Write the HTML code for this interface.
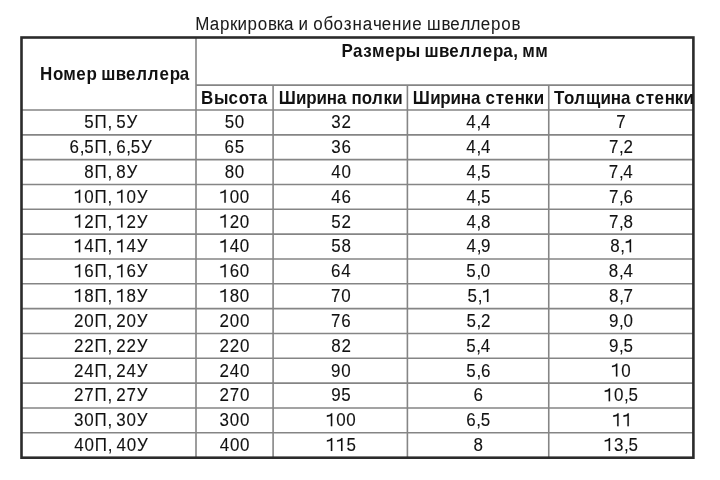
<!DOCTYPE html>
<html><head><meta charset="utf-8"><style>
html,body{margin:0;padding:0;background:#fff;width:720px;height:480px;overflow:hidden}
svg{position:absolute;left:0;top:0;filter:blur(0.3px)}
text{font-family:"Liberation Sans",sans-serif;font-kerning:none;font-size:17.490px}
.ti{fill:#1a1a1a;stroke:#1a1a1a;stroke-width:0.05px}
.hb{font-weight:bold;fill:#111;stroke:#111;stroke-width:0.0px}
.d{fill:#111;stroke:#111;stroke-width:0.1px}
.o path{fill:#111;stroke:#111;stroke-width:0.1px;vector-effect:non-scaling-stroke}
</style></head><body>
<svg width="720" height="480" viewBox="0 0 720 480">
<g stroke="#858585" stroke-width="1.6" fill="none">
<line x1="196.0" y1="37.5" x2="196.0" y2="457.7"/>
<line x1="273.1" y1="85.1" x2="273.1" y2="457.7"/>
<line x1="407.4" y1="85.1" x2="407.4" y2="457.7"/>
<line x1="548.75" y1="85.1" x2="548.75" y2="457.7"/>
<line x1="196.0" y1="85.10" x2="693.4" y2="85.10"/>
<line x1="21.5" y1="110.00" x2="693.4" y2="110.00"/>
<line x1="21.5" y1="134.83" x2="693.4" y2="134.83"/>
<line x1="21.5" y1="159.66" x2="693.4" y2="159.66"/>
<line x1="21.5" y1="184.49" x2="693.4" y2="184.49"/>
<line x1="21.5" y1="209.32" x2="693.4" y2="209.32"/>
<line x1="21.5" y1="234.15" x2="693.4" y2="234.15"/>
<line x1="21.5" y1="258.98" x2="693.4" y2="258.98"/>
<line x1="21.5" y1="283.81" x2="693.4" y2="283.81"/>
<line x1="21.5" y1="308.64" x2="693.4" y2="308.64"/>
<line x1="21.5" y1="333.47" x2="693.4" y2="333.47"/>
<line x1="21.5" y1="358.30" x2="693.4" y2="358.30"/>
<line x1="21.5" y1="383.13" x2="693.4" y2="383.13"/>
<line x1="21.5" y1="407.96" x2="693.4" y2="407.96"/>
<line x1="21.5" y1="432.79" x2="693.4" y2="432.79"/>
</g>
<rect x="21.5" y="37.5" width="671.90" height="420.20" fill="none" stroke="#2b2b2b" stroke-width="2.6"/>
<text transform="translate(0,30.30) scale(0.97,1.03)" x="201.23 216.18 226.70 237.19 244.73 255.25 265.77 276.28 285.27 292.82 303.26 307.84 318.28 322.87 333.39 343.90 354.40 363.44 373.96 384.46 393.49 404.01 414.53 425.04 435.49 440.14 455.09 464.11 474.64 485.15 495.66 506.18 516.70 527.21" y="0" class="ti">Маркировка и обозначение швеллеров</text>
<text transform="translate(0,79.90) scale(0.97,1.05)" x="41.21 54.70 65.26 78.73 89.26 99.69 104.35 119.32 129.82 140.36 152.38 164.38 174.91 185.41" y="0" class="hb">Номер швеллера</text>
<text transform="translate(0,56.90) scale(0.97,1.05)" x="352.02 364.01 374.51 383.59 397.07 407.60 418.18 433.05 437.71 452.68 463.18 473.72 485.74 497.74 508.27 518.77 529.22 533.72 538.36 551.88" y="0" class="hb">Размеры швеллера, мм</text>
<text transform="translate(0,103.60) scale(0.97,1.05)" x="207.18 220.74 235.68 246.22 256.70 265.74" y="0" class="hb">Высота</text>
<text transform="translate(0,103.60) scale(0.97,1.05)" x="287.34 305.26 315.78 326.30 336.81 347.32 357.76 362.36 372.88 383.40 395.39 404.43" y="0" class="hb">Ширина полки</text>
<text transform="translate(0,103.60) scale(0.97,1.05)" x="425.54 443.46 453.98 464.50 475.02 485.52 495.96 500.55 511.05 520.08 530.61 541.10 550.15" y="0" class="hb">Ширина стенки</text>
<text transform="translate(0,103.60) scale(0.97,1.05)" x="571.01 581.53 592.06 604.13 619.10 629.61 640.12 650.56 655.14 665.64 674.68 685.21 695.70 704.74" y="0" class="hb">Толщина стенки</text>
<text transform="translate(0,128.20) scale(0.97,1.04)" x="86.87 97.43 110.84 115.34 119.93 130.47" y="0" class="d">5П, 5У</text>
<text transform="translate(0,128.20) scale(0.97,1.04)" x="231.62 242.14" y="0" class="d">50</text>
<text transform="translate(0,128.20) scale(0.97,1.04)" x="341.53 352.05" y="0" class="d">32</text>
<text transform="translate(0,128.20) scale(0.97,1.04)" x="480.77 491.22 495.80" y="0" class="d">4,4</text>
<text transform="translate(0,128.20) scale(0.97,1.04)" x="635.33" y="0" class="d">7</text>
<text transform="translate(0,153.03) scale(0.97,1.04)" x="71.75 82.19 86.77 97.34 110.74 115.25 119.83 130.27 134.86 145.40" y="0" class="d">6,5П, 6,5У</text>
<text transform="translate(0,153.03) scale(0.97,1.04)" x="231.55 242.07" y="0" class="d">65</text>
<text transform="translate(0,153.03) scale(0.97,1.04)" x="341.48 351.99" y="0" class="d">36</text>
<text transform="translate(0,153.03) scale(0.97,1.04)" x="480.77 491.22 495.80" y="0" class="d">4,4</text>
<text transform="translate(0,153.03) scale(0.97,1.04)" x="627.82 638.26 642.85" y="0" class="d">7,2</text>
<text transform="translate(0,177.86) scale(0.97,1.04)" x="86.84 97.40 110.81 115.31 119.90 130.44" y="0" class="d">8П, 8У</text>
<text transform="translate(0,177.86) scale(0.97,1.04)" x="231.59 242.11" y="0" class="d">80</text>
<text transform="translate(0,177.86) scale(0.97,1.04)" x="341.57 352.09" y="0" class="d">40</text>
<text transform="translate(0,177.86) scale(0.97,1.04)" x="480.89 491.33 495.91" y="0" class="d">4,5</text>
<text transform="translate(0,177.86) scale(0.97,1.04)" x="627.63 638.07 642.66" y="0" class="d">7,4</text>
<text transform="translate(0,202.69) scale(0.97,1.04)" x="76.23 86.75 97.31 110.72 115.22 119.81 130.33 140.87" y="0" class="d"> 0П,  0У</text>
<text transform="translate(0,202.69) scale(0.97,1.04)" x="226.24 236.76 247.28" y="0" class="d"> 00</text>
<text transform="translate(0,202.69) scale(0.97,1.04)" x="341.61 352.13" y="0" class="d">46</text>
<text transform="translate(0,202.69) scale(0.97,1.04)" x="480.89 491.33 495.91" y="0" class="d">4,5</text>
<text transform="translate(0,202.69) scale(0.97,1.04)" x="627.76 638.21 642.79" y="0" class="d">7,6</text>
<text transform="translate(0,227.52) scale(0.97,1.04)" x="76.23 86.75 97.31 110.72 115.22 119.81 130.33 140.87" y="0" class="d"> 2П,  2У</text>
<text transform="translate(0,227.52) scale(0.97,1.04)" x="226.24 236.76 247.28" y="0" class="d"> 20</text>
<text transform="translate(0,227.52) scale(0.97,1.04)" x="341.52 352.03" y="0" class="d">52</text>
<text transform="translate(0,227.52) scale(0.97,1.04)" x="480.90 491.34 495.93" y="0" class="d">4,8</text>
<text transform="translate(0,227.52) scale(0.97,1.04)" x="627.76 638.20 642.79" y="0" class="d">7,8</text>
<text transform="translate(0,252.35) scale(0.97,1.04)" x="76.23 86.75 97.31 110.72 115.22 119.81 130.33 140.87" y="0" class="d"> 4П,  4У</text>
<text transform="translate(0,252.35) scale(0.97,1.04)" x="226.24 236.76 247.28" y="0" class="d"> 40</text>
<text transform="translate(0,252.35) scale(0.97,1.04)" x="341.45 351.97" y="0" class="d">58</text>
<text transform="translate(0,252.35) scale(0.97,1.04)" x="480.94 491.38 495.96" y="0" class="d">4,9</text>
<text transform="translate(0,252.35) scale(0.97,1.04)" x="629.09 639.54 644.12" y="0" class="d">8, </text>
<text transform="translate(0,277.18) scale(0.97,1.04)" x="76.23 86.75 97.31 110.72 115.22 119.81 130.33 140.87" y="0" class="d"> 6П,  6У</text>
<text transform="translate(0,277.18) scale(0.97,1.04)" x="226.24 236.76 247.28" y="0" class="d"> 60</text>
<text transform="translate(0,277.18) scale(0.97,1.04)" x="341.23 351.75" y="0" class="d">64</text>
<text transform="translate(0,277.18) scale(0.97,1.04)" x="480.71 491.15 495.73" y="0" class="d">5,0</text>
<text transform="translate(0,277.18) scale(0.97,1.04)" x="627.70 638.14 642.73" y="0" class="d">8,4</text>
<text transform="translate(0,302.01) scale(0.97,1.04)" x="76.23 86.75 97.31 110.72 115.22 119.81 130.33 140.87" y="0" class="d"> 8П,  8У</text>
<text transform="translate(0,302.01) scale(0.97,1.04)" x="226.24 236.76 247.28" y="0" class="d"> 80</text>
<text transform="translate(0,302.01) scale(0.97,1.04)" x="341.31 351.83" y="0" class="d">70</text>
<text transform="translate(0,302.01) scale(0.97,1.04)" x="482.01 492.45 497.04" y="0" class="d">5, </text>
<text transform="translate(0,302.01) scale(0.97,1.04)" x="627.89 638.33 642.92" y="0" class="d">8,7</text>
<text transform="translate(0,326.84) scale(0.97,1.04)" x="76.26 86.78 97.34 110.74 115.25 119.83 130.35 140.89" y="0" class="d">20П, 20У</text>
<text transform="translate(0,326.84) scale(0.97,1.04)" x="226.27 236.79 247.31" y="0" class="d">200</text>
<text transform="translate(0,326.84) scale(0.97,1.04)" x="341.36 351.88" y="0" class="d">76</text>
<text transform="translate(0,326.84) scale(0.97,1.04)" x="480.81 491.25 495.83" y="0" class="d">5,2</text>
<text transform="translate(0,326.84) scale(0.97,1.04)" x="627.76 638.20 642.79" y="0" class="d">9,0</text>
<text transform="translate(0,351.67) scale(0.97,1.04)" x="76.26 86.78 97.34 110.74 115.25 119.83 130.35 140.89" y="0" class="d">22П, 22У</text>
<text transform="translate(0,351.67) scale(0.97,1.04)" x="226.27 236.79 247.31" y="0" class="d">220</text>
<text transform="translate(0,351.67) scale(0.97,1.04)" x="341.49 352.00" y="0" class="d">82</text>
<text transform="translate(0,351.67) scale(0.97,1.04)" x="480.62 491.06 495.65" y="0" class="d">5,4</text>
<text transform="translate(0,351.67) scale(0.97,1.04)" x="627.79 638.23 642.81" y="0" class="d">9,5</text>
<text transform="translate(0,376.50) scale(0.97,1.04)" x="76.26 86.78 97.34 110.74 115.25 119.83 130.35 140.89" y="0" class="d">24П, 24У</text>
<text transform="translate(0,376.50) scale(0.97,1.04)" x="226.27 236.79 247.31" y="0" class="d">240</text>
<text transform="translate(0,376.50) scale(0.97,1.04)" x="341.35 351.87" y="0" class="d">90</text>
<text transform="translate(0,376.50) scale(0.97,1.04)" x="480.75 491.19 495.78" y="0" class="d">5,6</text>
<text transform="translate(0,376.50) scale(0.97,1.04)" x="629.96 640.47" y="0" class="d"> 0</text>
<text transform="translate(0,401.33) scale(0.97,1.04)" x="76.26 86.78 97.34 110.74 115.25 119.83 130.35 140.89" y="0" class="d">27П, 27У</text>
<text transform="translate(0,401.33) scale(0.97,1.04)" x="226.27 236.79 247.31" y="0" class="d">270</text>
<text transform="translate(0,401.33) scale(0.97,1.04)" x="341.38 351.90" y="0" class="d">95</text>
<text transform="translate(0,401.33) scale(0.97,1.04)" x="488.17" y="0" class="d">6</text>
<text transform="translate(0,401.33) scale(0.97,1.04)" x="622.47 632.99 643.43 648.01" y="0" class="d"> 0,5</text>
<text transform="translate(0,426.16) scale(0.97,1.04)" x="76.37 86.89 97.45 110.85 115.36 119.94 130.46 141.00" y="0" class="d">30П, 30У</text>
<text transform="translate(0,426.16) scale(0.97,1.04)" x="226.38 236.90 247.42" y="0" class="d">300</text>
<text transform="translate(0,426.16) scale(0.97,1.04)" x="336.04 346.56 357.07" y="0" class="d"> 00</text>
<text transform="translate(0,426.16) scale(0.97,1.04)" x="480.64 491.08 495.66" y="0" class="d">6,5</text>
<text transform="translate(0,426.16) scale(0.97,1.04)" x="631.26 641.78" y="0" class="d">  </text>
<text transform="translate(0,450.99) scale(0.97,1.04)" x="76.51 87.02 97.59 110.99 115.50 120.08 130.60 141.14" y="0" class="d">40П, 40У</text>
<text transform="translate(0,450.99) scale(0.97,1.04)" x="226.52 237.03 247.55" y="0" class="d">400</text>
<text transform="translate(0,450.99) scale(0.97,1.04)" x="336.06 346.58 357.10" y="0" class="d">  5</text>
<text transform="translate(0,450.99) scale(0.97,1.04)" x="488.23" y="0" class="d">8</text>
<text transform="translate(0,450.99) scale(0.97,1.04)" x="622.47 632.99 643.43 648.01" y="0" class="d"> 3,5</text>
<g class="o">
<path transform="translate(73.95,202.69) scale(0.008284,-0.008882)" d="M583 0L763 0L763 1466L646 1466Q540 1270 109 1215L109 1042Q380 1110 583 1147Z"/>
<path transform="translate(116.21,202.69) scale(0.008284,-0.008882)" d="M583 0L763 0L763 1466L646 1466Q540 1270 109 1215L109 1042Q380 1110 583 1147Z"/>
<path transform="translate(219.46,202.69) scale(0.008284,-0.008882)" d="M583 0L763 0L763 1466L646 1466Q540 1270 109 1215L109 1042Q380 1110 583 1147Z"/>
<path transform="translate(73.95,227.52) scale(0.008284,-0.008882)" d="M583 0L763 0L763 1466L646 1466Q540 1270 109 1215L109 1042Q380 1110 583 1147Z"/>
<path transform="translate(116.21,227.52) scale(0.008284,-0.008882)" d="M583 0L763 0L763 1466L646 1466Q540 1270 109 1215L109 1042Q380 1110 583 1147Z"/>
<path transform="translate(219.46,227.52) scale(0.008284,-0.008882)" d="M583 0L763 0L763 1466L646 1466Q540 1270 109 1215L109 1042Q380 1110 583 1147Z"/>
<path transform="translate(73.95,252.35) scale(0.008284,-0.008882)" d="M583 0L763 0L763 1466L646 1466Q540 1270 109 1215L109 1042Q380 1110 583 1147Z"/>
<path transform="translate(116.21,252.35) scale(0.008284,-0.008882)" d="M583 0L763 0L763 1466L646 1466Q540 1270 109 1215L109 1042Q380 1110 583 1147Z"/>
<path transform="translate(219.46,252.35) scale(0.008284,-0.008882)" d="M583 0L763 0L763 1466L646 1466Q540 1270 109 1215L109 1042Q380 1110 583 1147Z"/>
<path transform="translate(624.80,252.35) scale(0.008284,-0.008882)" d="M583 0L763 0L763 1466L646 1466Q540 1270 109 1215L109 1042Q380 1110 583 1147Z"/>
<path transform="translate(73.95,277.18) scale(0.008284,-0.008882)" d="M583 0L763 0L763 1466L646 1466Q540 1270 109 1215L109 1042Q380 1110 583 1147Z"/>
<path transform="translate(116.21,277.18) scale(0.008284,-0.008882)" d="M583 0L763 0L763 1466L646 1466Q540 1270 109 1215L109 1042Q380 1110 583 1147Z"/>
<path transform="translate(219.46,277.18) scale(0.008284,-0.008882)" d="M583 0L763 0L763 1466L646 1466Q540 1270 109 1215L109 1042Q380 1110 583 1147Z"/>
<path transform="translate(73.95,302.01) scale(0.008284,-0.008882)" d="M583 0L763 0L763 1466L646 1466Q540 1270 109 1215L109 1042Q380 1110 583 1147Z"/>
<path transform="translate(116.21,302.01) scale(0.008284,-0.008882)" d="M583 0L763 0L763 1466L646 1466Q540 1270 109 1215L109 1042Q380 1110 583 1147Z"/>
<path transform="translate(219.46,302.01) scale(0.008284,-0.008882)" d="M583 0L763 0L763 1466L646 1466Q540 1270 109 1215L109 1042Q380 1110 583 1147Z"/>
<path transform="translate(482.13,302.01) scale(0.008284,-0.008882)" d="M583 0L763 0L763 1466L646 1466Q540 1270 109 1215L109 1042Q380 1110 583 1147Z"/>
<path transform="translate(611.06,376.50) scale(0.008284,-0.008882)" d="M583 0L763 0L763 1466L646 1466Q540 1270 109 1215L109 1042Q380 1110 583 1147Z"/>
<path transform="translate(603.80,401.33) scale(0.008284,-0.008882)" d="M583 0L763 0L763 1466L646 1466Q540 1270 109 1215L109 1042Q380 1110 583 1147Z"/>
<path transform="translate(325.96,426.16) scale(0.008284,-0.008882)" d="M583 0L763 0L763 1466L646 1466Q540 1270 109 1215L109 1042Q380 1110 583 1147Z"/>
<path transform="translate(612.32,426.16) scale(0.008284,-0.008882)" d="M583 0L763 0L763 1466L646 1466Q540 1270 109 1215L109 1042Q380 1110 583 1147Z"/>
<path transform="translate(622.52,426.16) scale(0.008284,-0.008882)" d="M583 0L763 0L763 1466L646 1466Q540 1270 109 1215L109 1042Q380 1110 583 1147Z"/>
<path transform="translate(325.98,450.99) scale(0.008284,-0.008882)" d="M583 0L763 0L763 1466L646 1466Q540 1270 109 1215L109 1042Q380 1110 583 1147Z"/>
<path transform="translate(336.18,450.99) scale(0.008284,-0.008882)" d="M583 0L763 0L763 1466L646 1466Q540 1270 109 1215L109 1042Q380 1110 583 1147Z"/>
<path transform="translate(603.80,450.99) scale(0.008284,-0.008882)" d="M583 0L763 0L763 1466L646 1466Q540 1270 109 1215L109 1042Q380 1110 583 1147Z"/>
</g>
</svg>
</body></html>
